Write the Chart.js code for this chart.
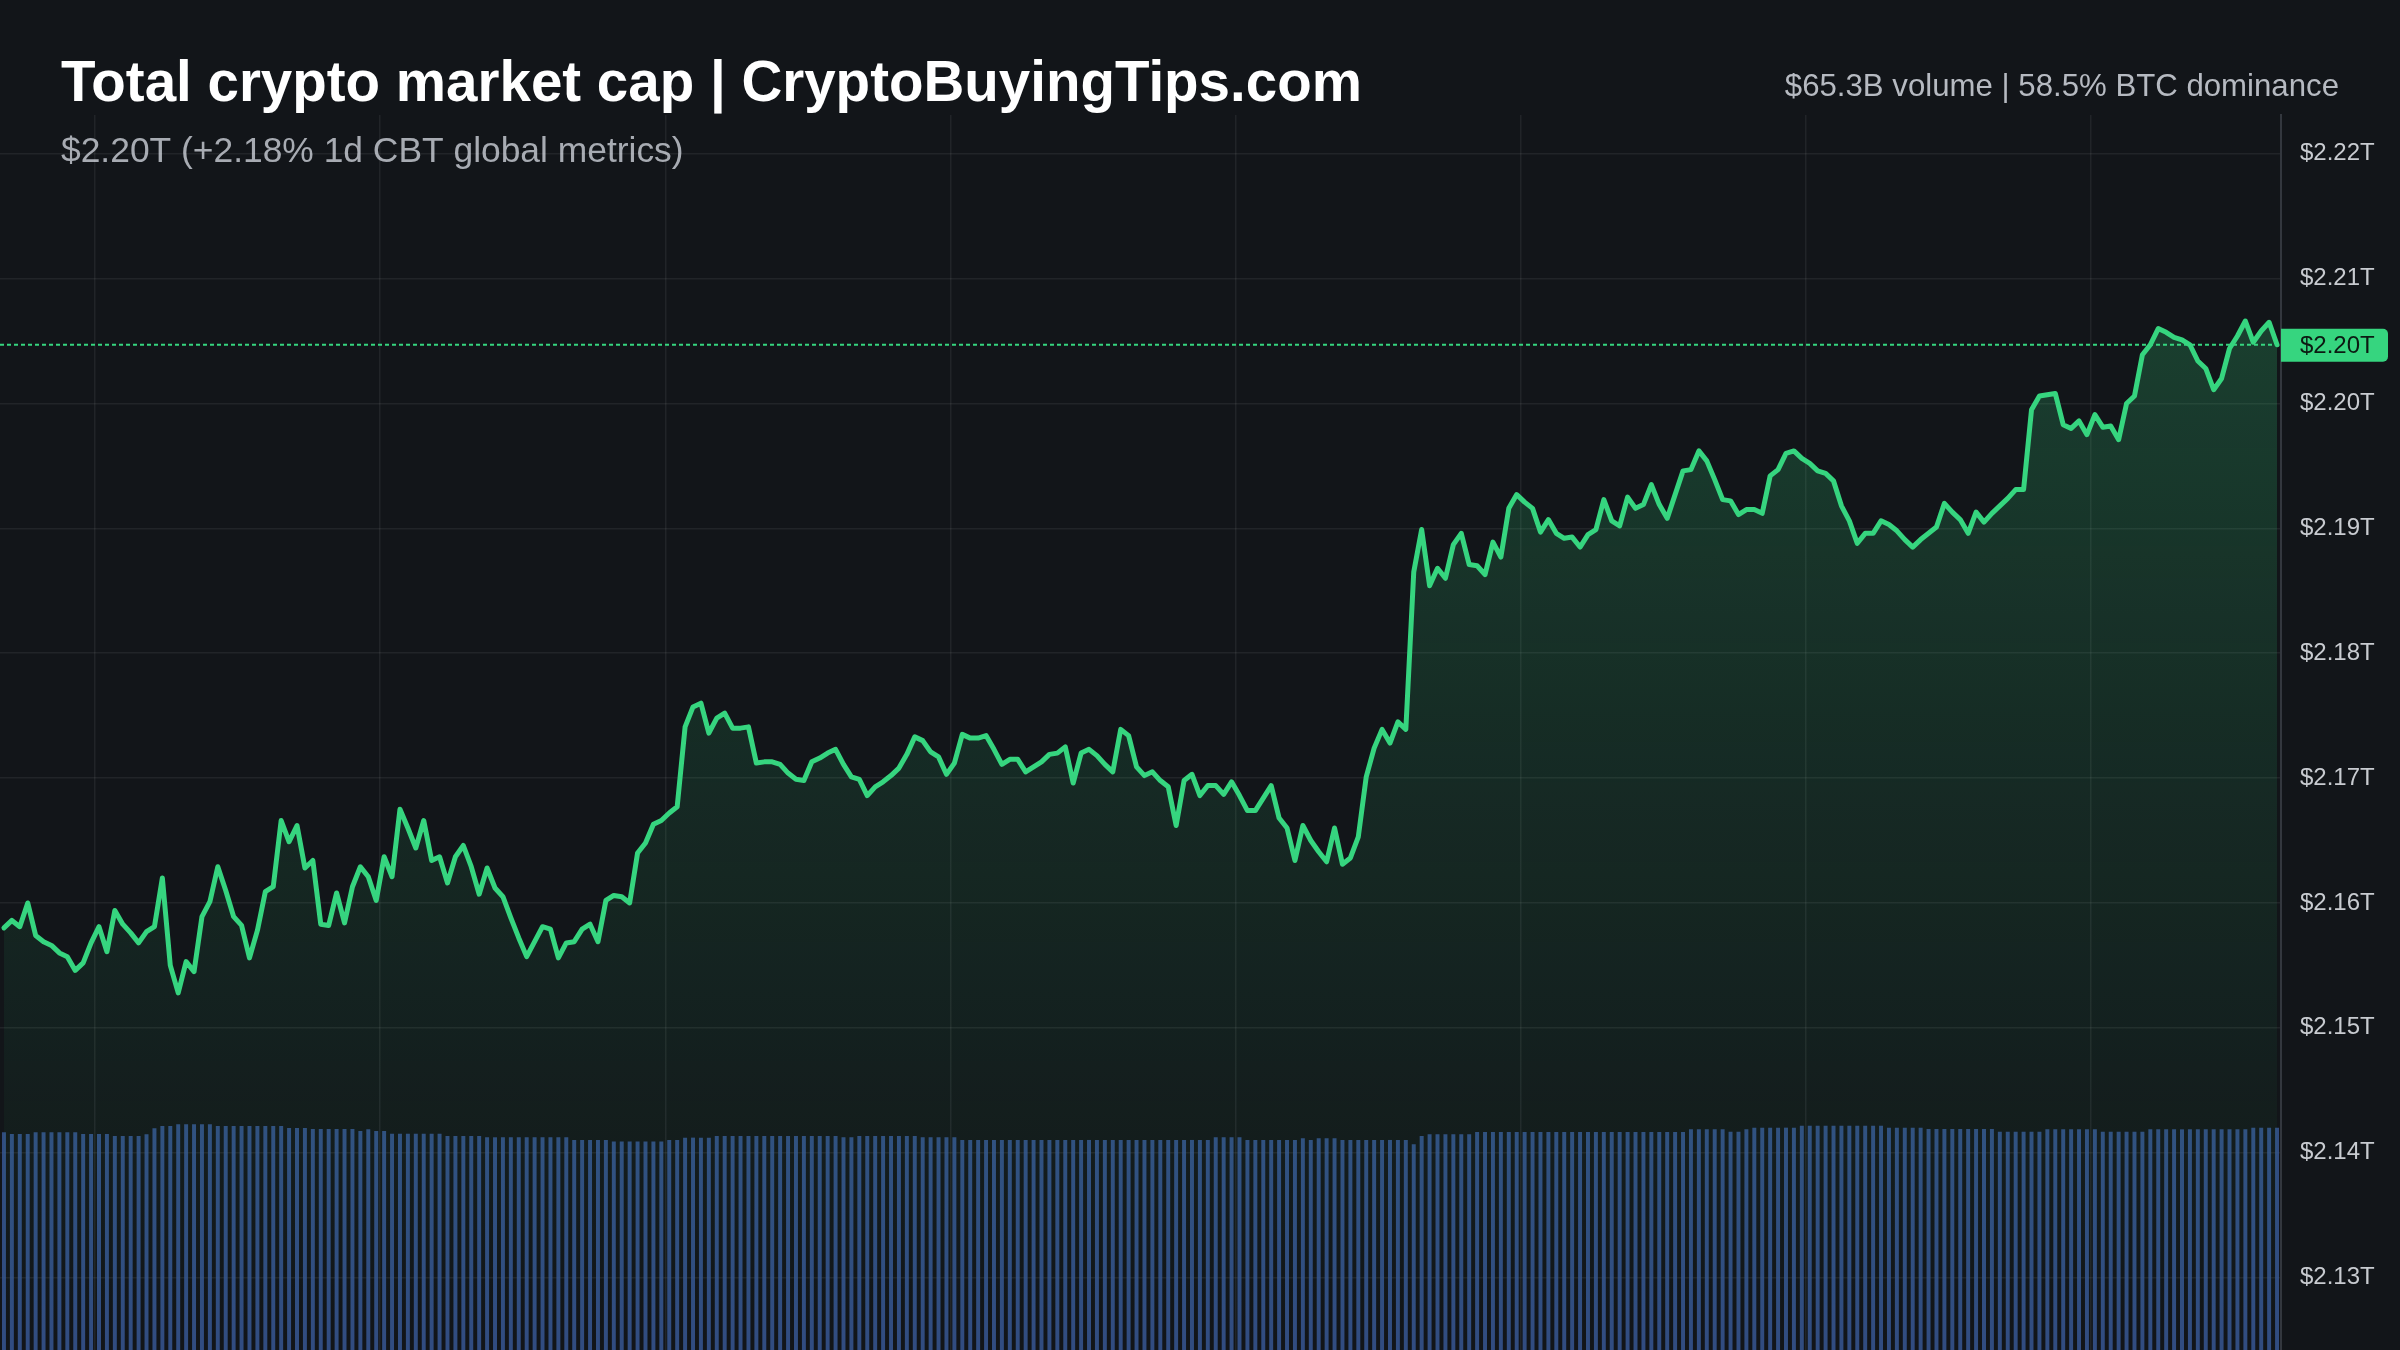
<!DOCTYPE html>
<html>
<head>
<meta charset="utf-8">
<title>Total crypto market cap</title>
<script src="https://cdn.jsdelivr.net/npm/chart.js@4/dist/chart.umd.min.js"></script>
<style>
  html, body { margin: 0; padding: 0; background: #121519; }
  #wrap { position: relative; width: 2400px; height: 1350px; }
</style>
</head>
<body>
<div id="wrap"><canvas id="capChart" width="2400" height="1350"></canvas></div>
<script>
// Header texts
const titleText = 'Total crypto market cap | CryptoBuyingTips.com';
const subtitleText = '$2.20T (+2.18% 1d CBT global metrics)';
const statsText = '$65.3B volume | 58.5% BTC dominance';

// Y axis ticks (trillions USD)
const tickValues = [2.13, 2.14, 2.15, 2.16, 2.17, 2.18, 2.19, 2.20, 2.21, 2.22];
const yMin = 2.1242;
const yMax = 2.2231;

// 5-minute samples over one day: total market cap (T USD)
const marketCap = [
  2.1580, 2.1586, 2.1581, 2.1600, 2.1574, 2.1569, 2.1566, 2.1560, 2.1557, 2.1546,
  2.1552, 2.1568, 2.1581, 2.1561, 2.1594, 2.1583, 2.1576, 2.1568, 2.1577, 2.1581,
  2.1620, 2.1550, 2.1528, 2.1553, 2.1545, 2.1589, 2.1601, 2.1629, 2.1610, 2.1589,
  2.1582, 2.1556, 2.1578, 2.1609, 2.1613, 2.1666, 2.1649, 2.1662, 2.1628, 2.1634,
  2.1583, 2.1582, 2.1608, 2.1584, 2.1613, 2.1629, 2.1621, 2.1602, 2.1637, 2.1621,
  2.1675, 2.1660, 2.1644, 2.1666, 2.1634, 2.1637, 2.1616, 2.1637, 2.1646, 2.1629,
  2.1607, 2.1628, 2.1612, 2.1605, 2.1588, 2.1572, 2.1557, 2.1569, 2.1581, 2.1579,
  2.1556, 2.1568, 2.1569, 2.1579, 2.1583, 2.1569, 2.1602, 2.1606, 2.1605, 2.1600,
  2.1640, 2.1648, 2.1663, 2.1666, 2.1672, 2.1677, 2.1741, 2.1757, 2.1760, 2.1736,
  2.1748, 2.1752, 2.1740, 2.1740, 2.1741, 2.1712, 2.1713, 2.1713, 2.1711, 2.1704,
  2.1699, 2.1698, 2.1713, 2.1716, 2.1720, 2.1723, 2.1711, 2.1701, 2.1699, 2.1686,
  2.1693, 2.1697, 2.1702, 2.1708, 2.1719, 2.1733, 2.1730, 2.1721, 2.1717, 2.1703,
  2.1712, 2.1735, 2.1732, 2.1732, 2.1734, 2.1723, 2.1711, 2.1715, 2.1715, 2.1705,
  2.1709, 2.1713, 2.1719, 2.1720, 2.1725, 2.1696, 2.1720, 2.1723, 2.1718, 2.1711,
  2.1705, 2.1739, 2.1734, 2.1709, 2.1702, 2.1705, 2.1698, 2.1693, 2.1662, 2.1698,
  2.1703, 2.1686, 2.1694, 2.1694, 2.1687, 2.1697, 2.1686, 2.1674, 2.1674, 2.1684,
  2.1694, 2.1668, 2.1660, 2.1634, 2.1662, 2.1650, 2.1641, 2.1633, 2.1660, 2.1631,
  2.1636, 2.1653, 2.1701, 2.1724, 2.1739, 2.1728, 2.1745, 2.1739, 2.1865, 2.1899,
  2.1854, 2.1868, 2.1860, 2.1887, 2.1896, 2.1871, 2.1870, 2.1863, 2.1889, 2.1877,
  2.1916, 2.1927, 2.1921, 2.1916, 2.1897, 2.1907, 2.1896, 2.1892, 2.1893, 2.1885,
  2.1895, 2.1899, 2.1923, 2.1906, 2.1902, 2.1925, 2.1916, 2.1919, 2.1935, 2.1919,
  2.1908, 2.1927, 2.1946, 2.1947, 2.1962, 2.1954, 2.1939, 2.1923, 2.1922, 2.1911,
  2.1915, 2.1915, 2.1912, 2.1942, 2.1947, 2.1960, 2.1962, 2.1956, 2.1952, 2.1946,
  2.1944, 2.1938, 2.1918, 2.1906, 2.1888, 2.1896, 2.1896, 2.1906, 2.1903, 2.1898,
  2.1891, 2.1885, 2.1891, 2.1896, 2.1901, 2.1920, 2.1913, 2.1907, 2.1896, 2.1913,
  2.1905, 2.1912, 2.1918, 2.1924, 2.1931, 2.1931, 2.1995, 2.2006, 2.2007, 2.2008,
  2.1983, 2.1980, 2.1986, 2.1975, 2.1991, 2.1981, 2.1982, 2.1971, 2.2000, 2.2006,
  2.2039, 2.2047, 2.2060, 2.2057, 2.2053, 2.2051, 2.2047, 2.2034, 2.2028, 2.2011,
  2.2020, 2.2044, 2.2054, 2.2066, 2.2049, 2.2058, 2.2065, 2.2047
];

// Volume per sample (B USD), drawn as thin bars on a hidden axis
const volume = [
  65.5, 65.0, 65.0, 65.0, 65.5, 65.5, 65.5, 65.5, 65.5, 65.5, 65.0, 65.0,
  65.0, 65.0, 64.4, 64.4, 64.4, 64.4, 64.9, 66.7, 67.4, 67.4, 67.9, 67.9,
  67.9, 67.9, 67.9, 67.4, 67.4, 67.4, 67.4, 67.4, 67.4, 67.4, 67.4, 67.4,
  66.8, 66.8, 66.8, 66.5, 66.5, 66.5, 66.5, 66.5, 66.5, 65.9, 66.4, 65.9,
  65.9, 65.1, 65.1, 65.1, 65.1, 65.1, 65.1, 65.1, 64.4, 64.4, 64.4, 64.4,
  64.4, 64.0, 64.0, 64.0, 64.0, 64.0, 64.0, 64.0, 64.0, 64.0, 64.0, 64.0,
  63.2, 63.2, 63.2, 63.2, 63.2, 62.7, 62.7, 62.7, 62.7, 62.7, 62.7, 62.7,
  63.2, 63.2, 63.9, 63.9, 63.9, 63.9, 64.4, 64.4, 64.4, 64.4, 64.4, 64.4,
  64.4, 64.4, 64.4, 64.4, 64.4, 64.4, 64.4, 64.4, 64.4, 64.4, 64.0, 64.0,
  64.4, 64.4, 64.4, 64.4, 64.4, 64.4, 64.4, 64.4, 64.0, 64.0, 64.0, 64.0,
  64.0, 63.2, 63.2, 63.2, 63.2, 63.2, 63.2, 63.2, 63.2, 63.2, 63.2, 63.2,
  63.2, 63.2, 63.2, 63.2, 63.2, 63.2, 63.2, 63.2, 63.2, 63.2, 63.2, 63.2,
  63.2, 63.2, 63.2, 63.2, 63.2, 63.2, 63.2, 63.2, 63.2, 64.0, 64.0, 64.0,
  64.0, 63.2, 63.2, 63.2, 63.2, 63.2, 63.2, 63.2, 63.7, 63.2, 63.7, 63.7,
  63.7, 63.2, 63.2, 63.2, 63.2, 63.2, 63.2, 63.2, 63.2, 63.2, 61.9, 64.4,
  64.9, 64.9, 64.9, 64.9, 64.9, 64.9, 65.6, 65.6, 65.6, 65.6, 65.6, 65.6,
  65.6, 65.6, 65.6, 65.6, 65.6, 65.6, 65.6, 65.6, 65.6, 65.6, 65.6, 65.6,
  65.6, 65.6, 65.6, 65.6, 65.6, 65.6, 65.6, 65.6, 65.6, 66.4, 66.4, 66.4,
  66.4, 66.4, 65.7, 65.7, 66.4, 66.9, 66.9, 66.9, 66.9, 66.9, 66.9, 67.5,
  67.5, 67.5, 67.5, 67.5, 67.5, 67.5, 67.5, 67.5, 67.5, 67.5, 66.9, 66.9,
  66.9, 66.9, 66.9, 66.5, 66.5, 66.5, 66.5, 66.5, 66.5, 66.5, 66.5, 66.5,
  65.7, 65.7, 65.7, 65.7, 65.7, 65.7, 66.4, 66.4, 66.4, 66.4, 66.4, 66.4,
  66.4, 65.7, 65.7, 65.7, 65.7, 65.7, 65.7, 66.4, 66.4, 66.4, 66.4, 66.4,
  66.4, 66.4, 66.4, 66.4, 66.4, 66.4, 66.4, 66.4, 66.9, 66.9, 66.9, 66.9
];
const volumeAxisMax = 371.6;

// Category labels: time of each 5-minute sample
const timeLabels = marketCap.map((_, i) => {
  const m = i * 5;
  return String(Math.floor(m / 60)).padStart(2, '0') + ':' + String(m % 60).padStart(2, '0');
});

const FONT = '"Liberation Sans", Arial, Helvetica, sans-serif';
const GREEN = '#36d57f';
const GRID = 'rgba(255,255,255,0.065)';

const fmtT = v => '$' + v.toFixed(2) + 'T';

// Header text drawn on the canvas
const headerPlugin = {
  id: 'header',
  beforeDraw(chart) {
    const c = chart.ctx;
    c.save();
    c.textBaseline = 'alphabetic';
    c.textAlign = 'left';
    c.fillStyle = '#ffffff';
    c.font = 'bold 56.5px ' + FONT;
    c.fillText(titleText, 61, 101);
    c.fillStyle = '#a7abb2';
    c.font = '35.4px ' + FONT;
    c.fillText(subtitleText, 61, 162);
    c.textAlign = 'right';
    c.fillStyle = '#b6bac1';
    c.font = '31.2px ' + FONT;
    c.fillText(statsText, 2339, 96);
    c.restore();
  }
};

// Dotted last-price line and the price badge on the axis
const lastPricePlugin = {
  id: 'lastPrice',
  afterDatasetsDraw(chart) {
    const c = chart.ctx;
    const area = chart.chartArea;
    const y = chart.scales.y;
    const last = marketCap[marketCap.length - 1];
    const py = y.getPixelForValue(last);
    c.save();
    c.strokeStyle = GREEN;
    c.lineWidth = 2;
    c.setLineDash([4, 3]);
    c.beginPath();
    c.moveTo(area.left, py);
    c.lineTo(area.right, py);
    c.stroke();
    c.setLineDash([]);
    c.fillStyle = GREEN;
    c.beginPath();
    c.roundRect(area.right, py - 16, 107, 33, [0, 5, 5, 0]);
    c.fill();
    c.fillStyle = '#0c1a12';
    c.font = '24px ' + FONT;
    c.textBaseline = 'middle';
    c.textAlign = 'left';
    c.fillText(fmtT(last), area.right + 19, py + 1.5);
    c.restore();
  }
};

const ctx = document.getElementById('capChart');
new Chart(ctx, {
  type: 'line',
  data: {
    labels: timeLabels,
    datasets: [
      {
        type: 'line',
        label: 'Market cap',
        data: marketCap,
        yAxisID: 'y',
        borderColor: GREEN,
        borderWidth: 5,
        borderJoinStyle: 'round',
        borderCapStyle: 'round',
        pointRadius: 0,
        tension: 0,
        fill: 'start',
        backgroundColor: (context) => {
          const { chart } = context;
          const area = chart.chartArea;
          if (!area) return 'rgba(54,213,127,0.12)';
          const g = chart.ctx.createLinearGradient(0, area.top, 0, area.bottom);
          g.addColorStop(0, 'rgba(54,213,127,0.27)');
          g.addColorStop(0.5, 'rgba(54,213,127,0.12)');
          g.addColorStop(1, 'rgba(54,213,127,0.0)');
          return g;
        },
        order: 1
      },
      {
        type: 'bar',
        label: 'Volume',
        data: volume,
        yAxisID: 'yVol',
        backgroundColor: 'rgba(58,92,158,0.78)',
        borderWidth: 0,
        barPercentage: 0.5,
        categoryPercentage: 1.0,
        order: 2
      }
    ]
  },
  options: {
    responsive: false,
    animation: false,
    maintainAspectRatio: false,
    layout: { padding: { top: 115, left: 0, right: 0, bottom: 0 } },
    plugins: {
      legend: { display: false },
      tooltip: { enabled: false },
      title: { display: false }
    },
    scales: {
      x: {
        type: 'category',
        offset: true,
        border: { display: false },
        grid: {
          offset: true,
          drawTicks: false,
          lineWidth: 1.5,
          color: (c) => (c.index % 36 === 12 ? GRID : 'transparent')
        },
        ticks: { display: false, autoSkip: false }
      },
      y: {
        type: 'linear',
        position: 'right',
        min: yMin,
        max: yMax,
        afterBuildTicks: (scale) => {
          scale.ticks = tickValues.map(v => ({ value: v }));
        },
        afterFit: (scale) => {
          scale.width = 119;
          scale.paddingTop = 0;
          scale.paddingBottom = 0;
        },
        border: { display: true, color: '#33373e', width: 2 },
        grid: { color: GRID, lineWidth: 1.5, drawTicks: false },
        ticks: {
          padding: 19,
          color: '#c8cbd0',
          font: { family: FONT, size: 24 },
          callback: (v) => fmtT(v)
        }
      },
      yVol: {
        type: 'linear',
        display: false,
        min: 0,
        max: volumeAxisMax
      }
    }
  },
  plugins: [headerPlugin, lastPricePlugin]
});
</script>
</body>
</html>
